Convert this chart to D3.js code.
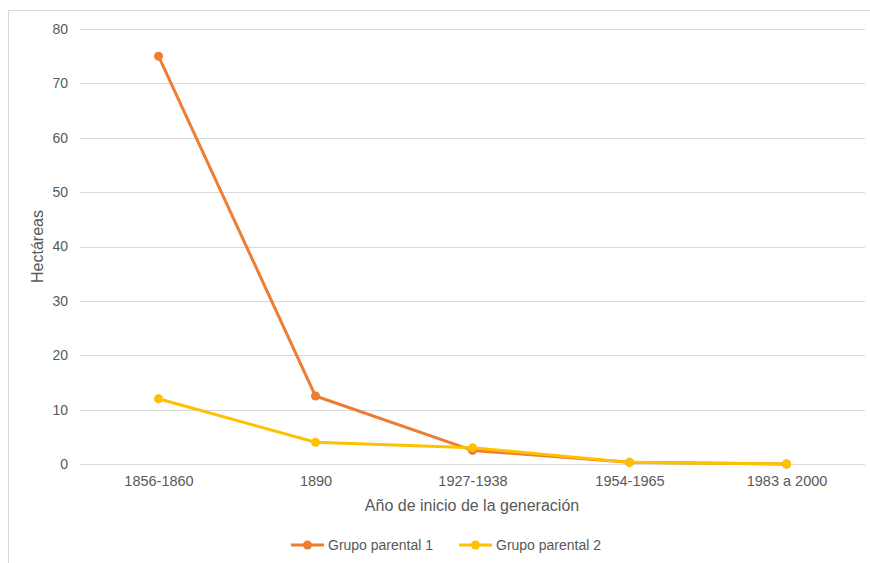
<!DOCTYPE html>
<html>
<head>
<meta charset="utf-8">
<script src="https://cdn.jsdelivr.net/npm/d3@7"></script>
<style>
  html, body { margin: 0; padding: 0; background: #fff; }
  svg { display: block; font-family: "Liberation Sans", Arial, sans-serif; }
</style>
</head>
<body>
<svg id="chart" width="870" height="563"></svg>
<script>
// Generation start periods
const categories = ["1856-1860", "1890", "1927-1938", "1954-1965", "1983 a 2000"];
// Hectares per parental group
const grupo1 = [75, 12.5, 2.5, 0.3, 0];
const grupo2 = [12, 4, 3, 0.3, 0];
const yTicks = [0, 10, 20, 30, 40, 50, 60, 70, 80];
const seriesNames = ["Grupo parental 1", "Grupo parental 2"];
const seriesColors = ["#ED7D31", "#FFC000"];

const svg = d3.select("#chart");
const W = 870, H = 563;
const plot = { left: 80, right: 865, top: 29, bottom: 464 };
const textColor = "#595959";

// Outer chart frame
svg.append("rect")
  .attr("x", 8.5).attr("y", 10.5)
  .attr("width", W + 10).attr("height", H + 10)
  .attr("fill", "#fff").attr("stroke", "#d9d9d9").attr("stroke-width", 1);

const x = d3.scalePoint().domain(categories)
  .range([plot.left, plot.right]).padding(0.5);
const y = d3.scaleLinear().domain([0, 80]).range([plot.bottom, plot.top]);

// Horizontal gridlines
svg.append("g").selectAll("line").data(yTicks).join("line")
  .attr("x1", plot.left).attr("x2", plot.right)
  .attr("y1", d => Math.round(y(d)) + 0.5).attr("y2", d => Math.round(y(d)) + 0.5)
  .attr("stroke", "#d9d9d9").attr("stroke-width", 1);

// Y axis labels
const yAxis = d3.axisLeft(y).tickValues(yTicks).tickSize(0).tickPadding(0);
const gy = svg.append("g").attr("transform", `translate(${plot.left - 12},0)`).call(yAxis);
gy.select(".domain").remove();
gy.selectAll("text").attr("fill", textColor).style("font-size", "14px")
  .style("font-family", "Liberation Sans, Arial, sans-serif");

// X axis labels
const xAxis = d3.axisBottom(x).tickSize(0).tickPadding(0);
const gx = svg.append("g").attr("transform", `translate(0,${plot.bottom + 12})`).call(xAxis);
gx.select(".domain").remove();
gx.selectAll("text").attr("fill", textColor).style("font-size", "14.5px")
  .style("font-family", "Liberation Sans, Arial, sans-serif");

// Axis titles
svg.append("text")
  .attr("x", 472).attr("y", 511)
  .attr("text-anchor", "middle").attr("fill", textColor)
  .style("font-size", "16px").text("Año de inicio de la generación");

svg.append("text")
  .attr("transform", `translate(43,${(plot.top + plot.bottom) / 2}) rotate(-90)`)
  .attr("text-anchor", "middle").attr("fill", textColor)
  .style("font-size", "16px").text("Hectáreas");

// Series lines and markers (group 2 drawn last so it sits on top)
const line = d3.line().x((d, i) => x(categories[i])).y(d => y(d));
[grupo1, grupo2].forEach((vals, k) => {
  const g = svg.append("g");
  g.append("path").datum(vals)
    .attr("d", line).attr("fill", "none")
    .attr("stroke", seriesColors[k]).attr("stroke-width", 3)
    .attr("stroke-linejoin", "round");
  g.selectAll("circle").data(vals).join("circle")
    .attr("cx", (d, i) => x(categories[i])).attr("cy", d => y(d))
    .attr("r", 4.5).attr("fill", seriesColors[k]);
});

// Legend
const legend = [
  { name: seriesNames[0], color: seriesColors[0], x: 291 },
  { name: seriesNames[1], color: seriesColors[1], x: 459 }
];
const lg = svg.append("g").selectAll("g").data(legend).join("g")
  .attr("transform", d => `translate(${d.x},545)`);
lg.append("line").attr("x1", 0).attr("x2", 33).attr("y1", 0).attr("y2", 0)
  .attr("stroke", d => d.color).attr("stroke-width", 3);
lg.append("circle").attr("cx", 16.5).attr("cy", 0).attr("r", 4.5).attr("fill", d => d.color);
lg.append("text").attr("x", 37).attr("y", 5).attr("fill", textColor)
  .style("font-size", "14px").text(d => d.name);
</script>
</body>
</html>
